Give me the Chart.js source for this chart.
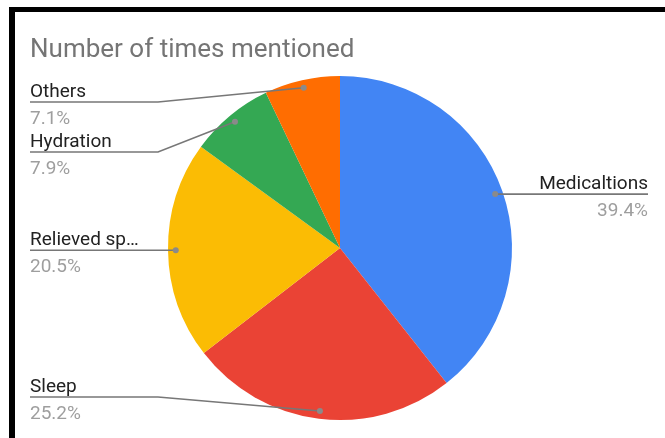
<!DOCTYPE html>
<html>
<head>
<meta charset="utf-8">
<script src="https://cdn.jsdelivr.net/npm/chart.js@4"></script>
<style>
  html, body { margin: 0; padding: 0; background: #fff; }
  #wrap { position: relative; width: 665px; height: 438px; }
  canvas { display: block; }
</style>
</head>
<body>
<div id="wrap"><canvas id="c" width="665" height="438"></canvas></div>
<script>
const title = "Number of times mentioned";
const categories = ["Medicaltions", "Sleep", "Relieved sp\u2026", "Hydration", "Others"];
const values = [39.4, 25.2, 20.5, 7.9, 7.1];
const percentLabels = ["39.4%", "25.2%", "20.5%", "7.9%", "7.1%"];
const colors = ["#4285F4", "#EA4335", "#FBBC04", "#34A853", "#FF6D01"];

const FONT = "Roboto, 'Liberation Sans', Arial, sans-serif";

const framePlugin = {
  id: 'frame',
  beforeDraw(chart) {
    const ctx = chart.ctx;
    ctx.save();
    ctx.fillStyle = '#fff';
    ctx.fillRect(0, 0, chart.width, chart.height);
    ctx.fillStyle = '#000';
    ctx.fillRect(9, 7, chart.width - 9, 5);
    ctx.fillRect(9, 7, 6, chart.height - 7);
    ctx.fillStyle = '#757575';
    ctx.font = "26px " + FONT;
    ctx.textBaseline = 'alphabetic';
    ctx.textAlign = 'left';
    ctx.fillText(title, 30, 57);
    ctx.restore();
  }
};

const labelPlugin = {
  id: 'pieLabels',
  afterDatasetsDraw(chart) {
    const ctx = chart.ctx;
    const meta = chart.getDatasetMeta(0);
    const area = chart.chartArea;
    const items = meta.data.map((arc, i) => {
      const mid = (arc.startAngle + arc.endAngle) / 2;
      const r = arc.outerRadius * 0.955;
      return {
        i, arc,
        dx: arc.x + Math.cos(mid) * r,
        dy: arc.y + Math.sin(mid) * r,
        right: Math.cos(mid) >= 0
      };
    });
    const minY = area.top + 26, maxY = area.bottom - 23, gap = 50;
    ['left', 'right'].forEach(side => {
      const group = items.filter(it => (side === 'right') === it.right).sort((a, b) => a.dy - b.dy);
      let prev = -Infinity;
      group.forEach(it => {
        let y = Math.min(Math.max(it.dy, minY), maxY);
        if (y < prev + gap) y = prev + gap;
        it.ly = y;
        prev = y;
      });
    });
    ctx.save();
    items.forEach(it => {
      const arc = it.arc;
      const bendX = it.right ? arc.x + arc.outerRadius + 10 : arc.x - arc.outerRadius - 10;
      const endX = it.right ? 648 : 30;
      ctx.strokeStyle = '#777';
      ctx.lineWidth = 1.6;
      ctx.beginPath();
      ctx.moveTo(it.dx, it.dy);
      if (Math.abs(it.ly - it.dy) > 0.5) ctx.lineTo(bendX, it.ly);
      ctx.lineTo(endX, it.ly);
      ctx.stroke();
      ctx.fillStyle = '#8a8a8a';
      ctx.beginPath();
      ctx.arc(it.dx, it.dy, 3, 0, Math.PI * 2);
      ctx.fill();
      ctx.textAlign = it.right ? 'right' : 'left';
      ctx.font = "19px " + FONT;
      ctx.fillStyle = '#222';
      ctx.textBaseline = 'alphabetic';
      ctx.fillText(categories[it.i], endX, it.ly - 5);
      ctx.fillStyle = '#9e9e9e';
      ctx.fillText(percentLabels[it.i], endX, it.ly + 22);
    });
    ctx.restore();
  }
};

new Chart(document.getElementById('c'), {
  type: 'pie',
  data: {
    labels: categories,
    datasets: [{
      data: values,
      backgroundColor: colors,
      borderWidth: 0
    }]
  },
  options: {
    responsive: false,
    animation: false,
    layout: { padding: { left: 168, right: 153, top: 76, bottom: 18 } },
    plugins: {
      legend: { display: false },
      tooltip: { enabled: false },
      title: { display: false }
    }
  },
  plugins: [framePlugin, labelPlugin]
});
</script>
</body>
</html>
